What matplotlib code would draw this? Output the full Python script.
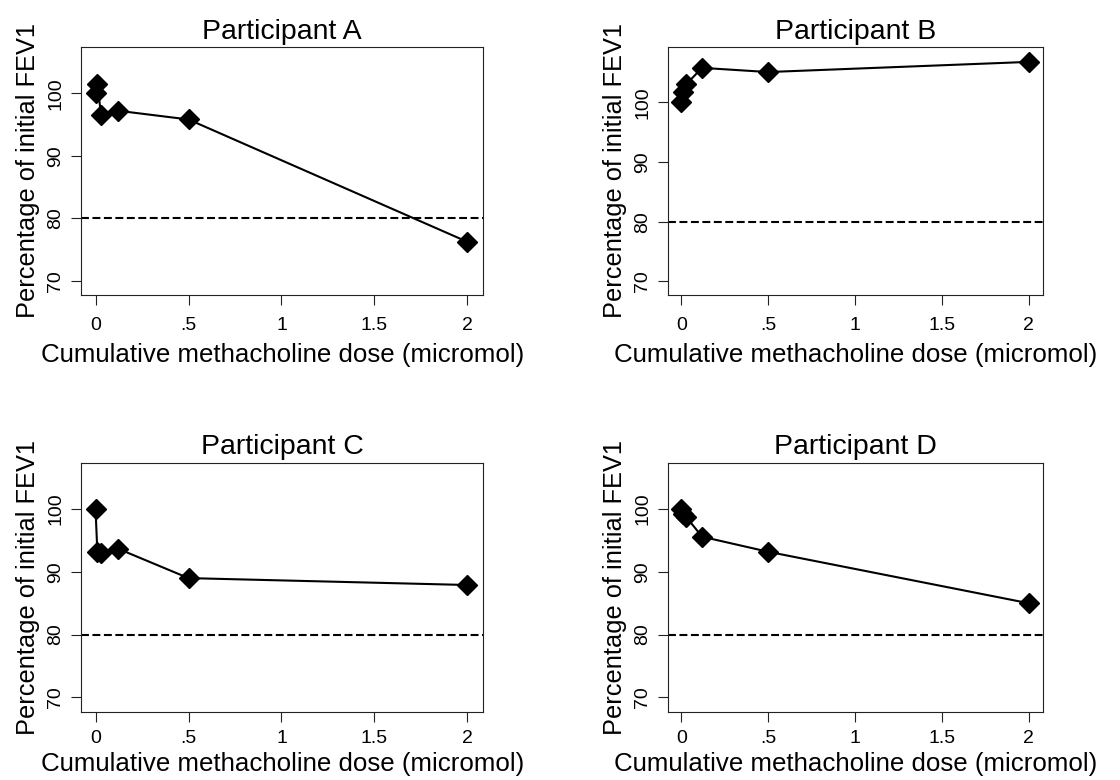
import matplotlib
matplotlib.use('Agg')
import matplotlib.pyplot as plt

plt.rcParams['font.family'] = ['Liberation Sans', 'DejaVu Sans']

# cumulative methacholine dose (micromol)
doses = [0, 0.01, 0.03, 0.12, 0.5, 2]

# percentage of initial FEV1, one list per participant
fev_a = [100, 101.5, 96.5, 97.2, 95.8, 76.2]
fev_b = [100, 101.8, 103.1, 105.8, 105.1, 106.8]
fev_c = [100, 93.2, 93.0, 93.7, 89.0, 87.9]
fev_d = [100, 99.3, 98.7, 95.6, 93.2, 85.0]

titles = ['Participant A', 'Participant B', 'Participant C', 'Participant D']
series = [fev_a, fev_b, fev_c, fev_d]
ymax = [107.4, 109.3, 107.4, 107.4]

x_ticks = [0, 0.5, 1, 1.5, 2]
x_tick_labels = ['0', '.5', '1', '1.5', '2']
y_ticks = [70, 80, 90, 100]
threshold = 80

W, H = 1120, 780
# axes boxes in pixels: left, top, right, bottom
boxes = [
    (81, 47, 483.3, 295),
    (667.7, 47, 1043.3, 295),
    (81, 462.7, 483.3, 711.7),
    (667.7, 462.7, 1043.3, 711.7),
]
# bottom row sits a little tighter to the page edge
x_pads = [9, 9, 6, 6]
label_pads = [6.5, 6.5, 4, 4]

fig = plt.figure(figsize=(W / 100, H / 100), dpi=100)

for box, title, vals, top, xpad, lpad in zip(boxes, titles, series, ymax, x_pads, label_pads):
    l, t, r, b = box
    ax = fig.add_axes([l / W, 1 - b / H, (r - l) / W, (b - t) / H])

    ax.axhline(threshold, ls=(0, (3.8, 1.7)), lw=1.5, color='k', zorder=1)
    ax.plot(doses, vals, '-', color='k', lw=1.5, marker='D', ms=10,
            mfc='k', mec='k', mew=1, zorder=2)

    ax.set_xlim(-0.078, 2.085)
    ax.set_ylim(67.7, top)
    ax.set_xticks(x_ticks)
    ax.set_xticklabels(x_tick_labels)
    ax.set_yticks(y_ticks)
    ax.set_yticklabels([str(v) for v in y_ticks], rotation=90, va='center')

    ax.tick_params(axis='both', direction='out', length=7, width=0.8,
                   color='#222222', labelsize=14)
    ax.tick_params(axis='x', pad=xpad)
    ax.tick_params(axis='y', pad=5)
    for side in ax.spines.values():
        side.set_linewidth(0.8)
        side.set_color('#222222')

    ax.set_title(title, fontsize=20.5, pad=6)
    ax.set_xlabel('Cumulative methacholine dose (micromol)', fontsize=18.6, labelpad=lpad)
    ax.set_ylabel('Percentage of initial FEV1', fontsize=18.3, labelpad=5)

fig.savefig('out.png', dpi=100)
